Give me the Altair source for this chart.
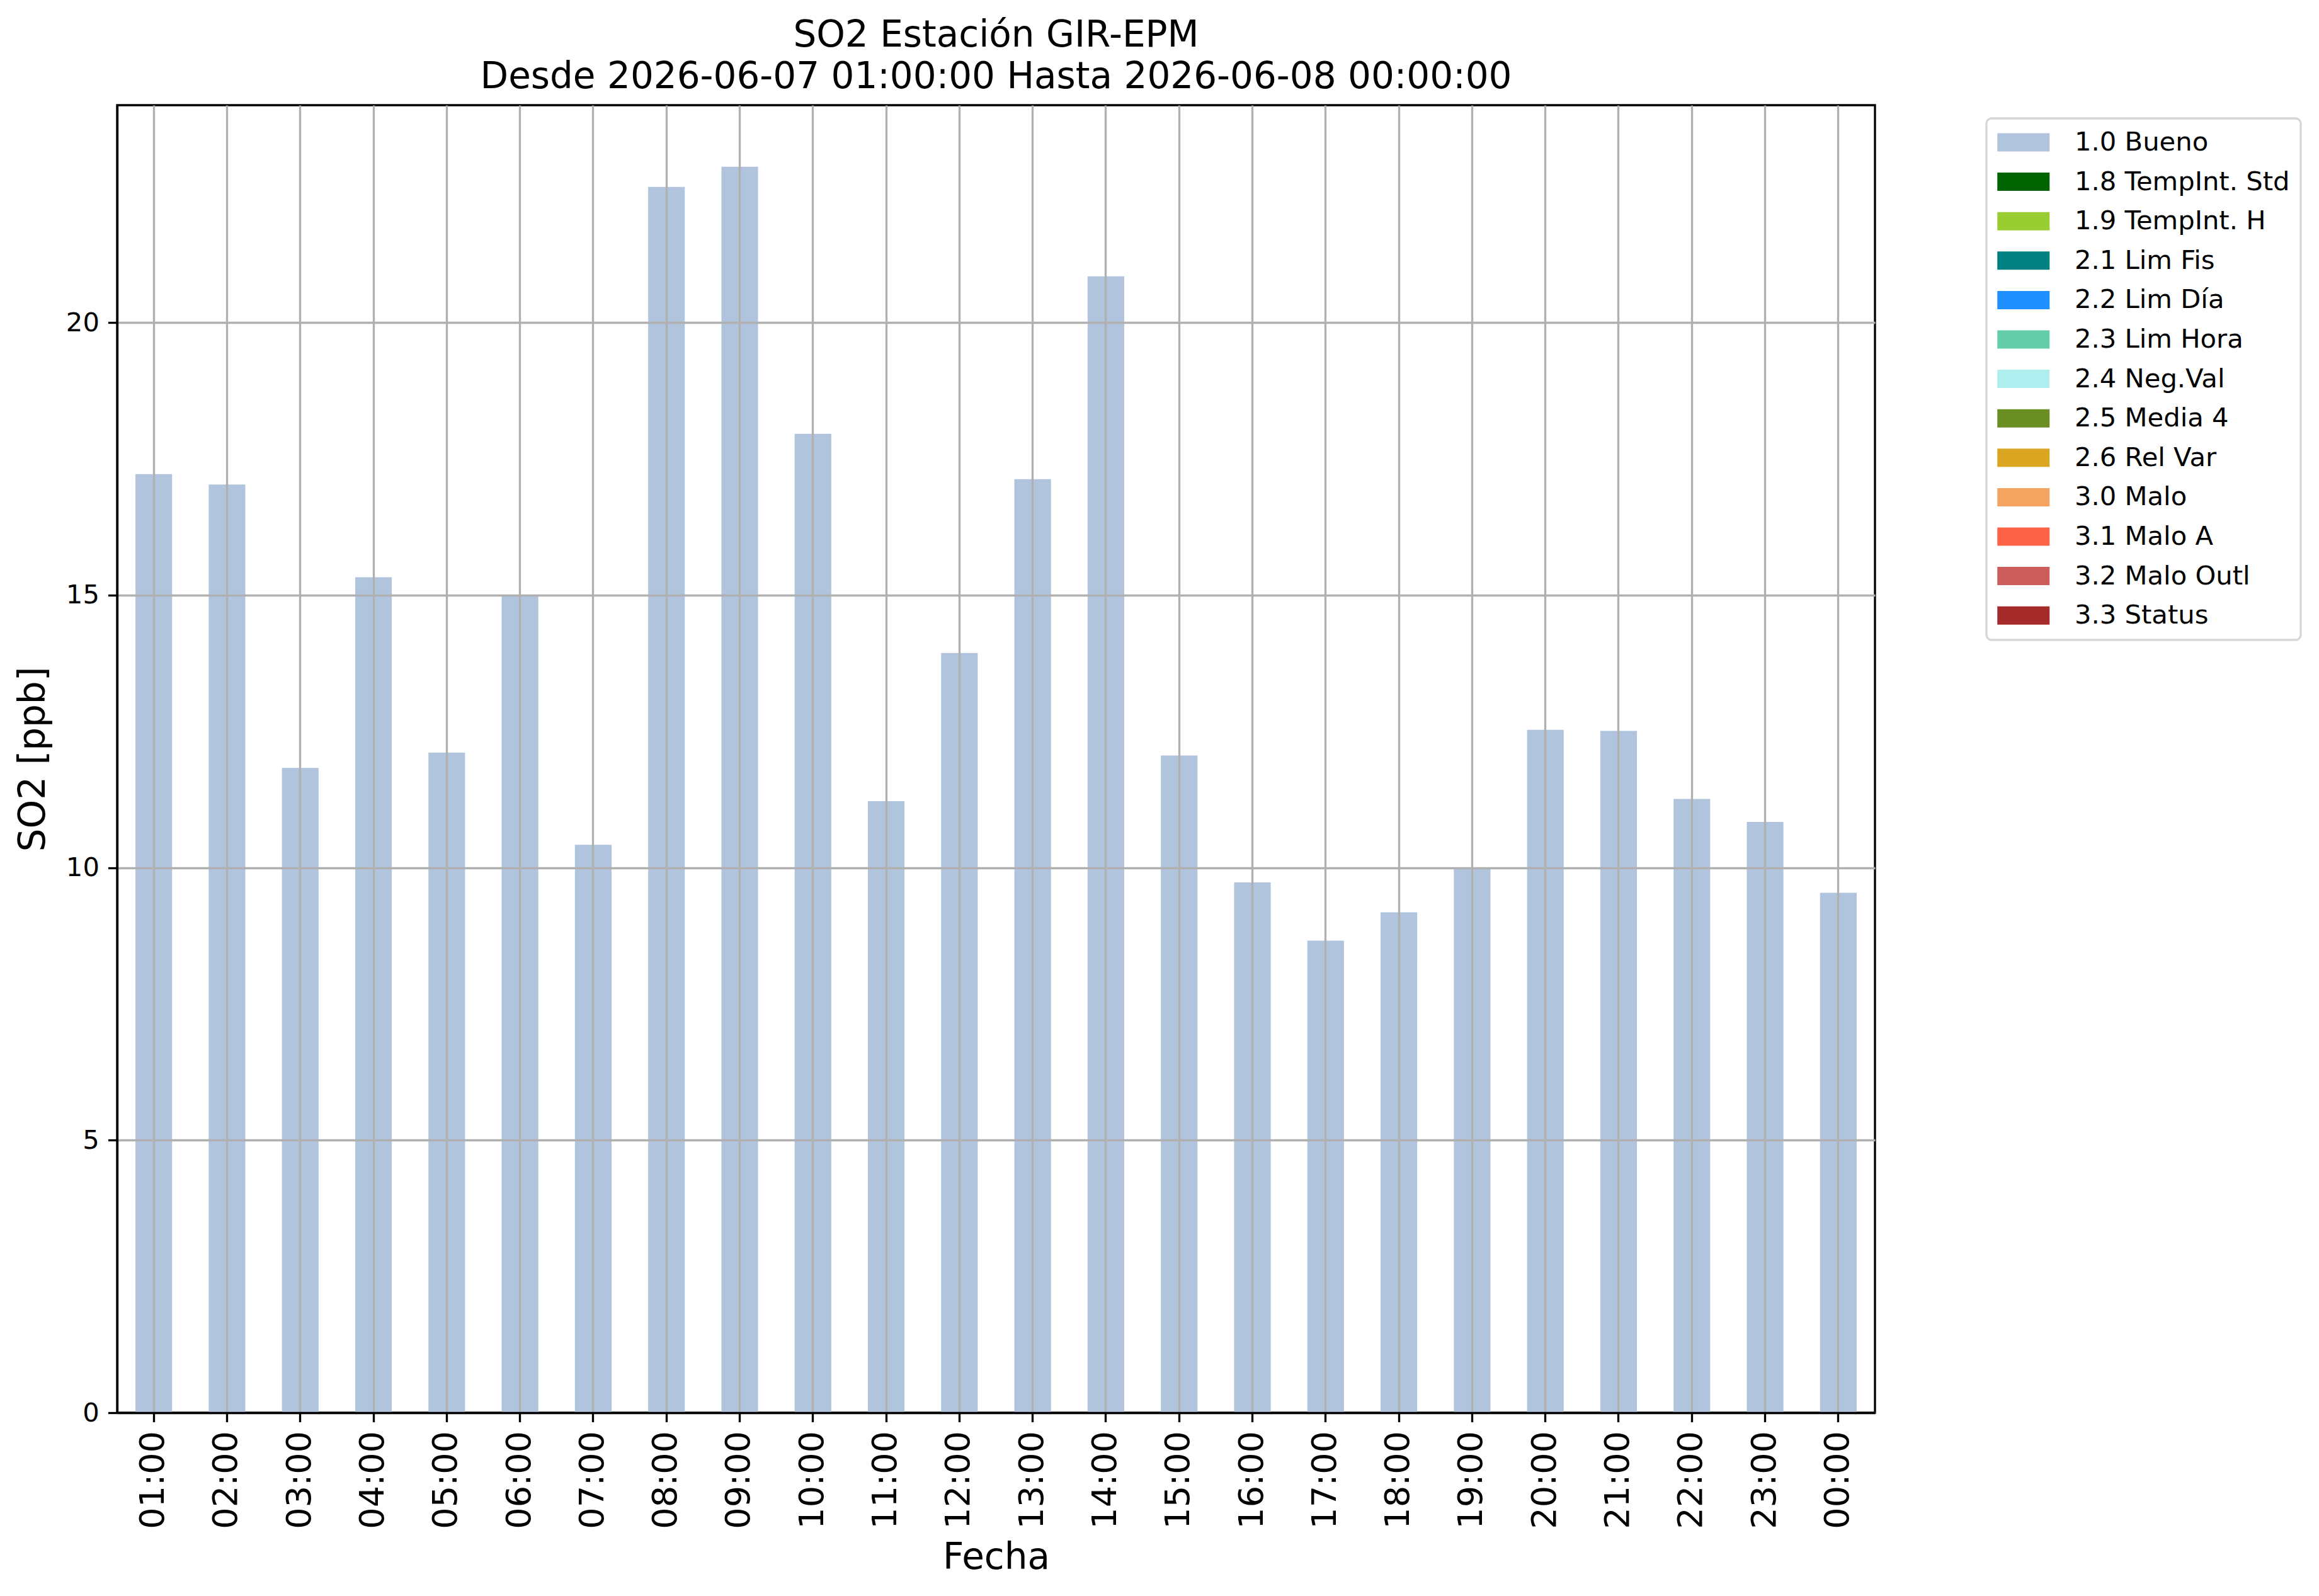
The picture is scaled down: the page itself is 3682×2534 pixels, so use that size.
import altair as alt
import pandas as pd

# ---- data ----
hours = ["01:00", "02:00", "03:00", "04:00", "05:00", "06:00", "07:00", "08:00",
         "09:00", "10:00", "11:00", "12:00", "13:00", "14:00", "15:00", "16:00",
         "17:00", "18:00", "19:00", "20:00", "21:00", "22:00", "23:00", "00:00"]
so2 = [17.22, 17.03, 11.83, 15.33, 12.11, 14.99, 10.42, 22.49,
       22.86, 17.96, 11.22, 13.94, 17.13, 20.85, 12.06, 9.73,
       8.66, 9.18, 9.99, 12.53, 12.51, 11.26, 10.84, 9.54]
flag_per_bar = ["1.0 Bueno"] * len(hours)

flags = ["1.0 Bueno", "1.8 TempInt. Std", "1.9 TempInt. H", "2.1 Lim Fis",
         "2.2 Lim Día", "2.3 Lim Hora", "2.4 Neg.Val", "2.5 Media 4",
         "2.6 Rel Var", "3.0 Malo", "3.1 Malo A", "3.2 Malo Outl", "3.3 Status"]
flag_colors = ["#B0C4DE", "#006400", "#9ACD32", "#008080", "#1E90FF", "#66CDAA",
               "#AFEEEE", "#6B8E23", "#DAA520", "#F4A460", "#FF6347", "#CD5C5C",
               "#A52A2A"]

title_lines = ["SO2 Estación GIR-EPM",
               "Desde 2026-06-07 01:00:00 Hasta 2026-06-08 00:00:00"]
y_ticks = [0, 5, 10, 15, 20]

df = pd.DataFrame({"Fecha": hours, "SO2": so2, "flag": flag_per_bar})

FONT = "DejaVu Sans"
LW = 3.33

bars = alt.Chart(df).mark_bar(strokeWidth=0, opacity=1).encode(
    x=alt.X("Fecha:N", sort=hours,
            scale=alt.Scale(paddingInner=0.5, paddingOuter=0.25),
            axis=alt.Axis(title="Fecha", labelAngle=270, labelFontSize=54,
                          labelPadding=14, grid=True, bandPosition=0.5,
                          titlePadding=17, zindex=1)),
    y=alt.Y("SO2:Q", scale=alt.Scale(domain=[0, 23.99], nice=False, zero=True),
            axis=alt.Axis(title="SO2 [ppb]", values=y_ticks, labelFontSize=41.7,
                          labelPadding=14, grid=True, titlePadding=22, zindex=1)),
    color=alt.Color("flag:N",
                    scale=alt.Scale(domain=flags, range=flag_colors),
                    legend=alt.Legend(title=None, orient="none",
                                      legendX=2968, legendY=21,
                                      symbolType="M-1,-0.7L3,-0.7L3,0.7L-1,0.7Z",
                                      symbolSize=1722, symbolStrokeWidth=0,
                                      symbolOpacity=1,
                                      labelFontSize=41.7, labelFont=FONT,
                                      labelColor="black", labelOffset=81,
                                      labelLimit=1000, rowPadding=19.6,
                                      padding=17, strokeColor="#d6d6d6",
                                      fillColor="white", cornerRadius=8)),
)

chart = bars.properties(
    width=2791, height=2076,
    title=alt.TitleParams(text=title_lines, fontSize=58, font=FONT,
                          fontWeight="normal", color="black", anchor="middle",
                          lineHeight=66, offset=-31, baseline="alphabetic"),
    autosize=alt.AutoSizeParams(type="none"),
    padding={"left": 178, "top": 159, "right": 697, "bottom": 283},
    background="white",
).configure_view(
    stroke="black", strokeWidth=LW
).configure_axis(
    labelFont=FONT, titleFont=FONT, labelColor="black", titleColor="black",
    titleFontSize=58, titleFontWeight="normal",
    gridColor="#b0b0b0", gridWidth=LW, gridOpacity=1,
    domainColor="black", domainWidth=LW,
    tickColor="black", tickWidth=LW, tickSize=14.6,
    zindex=1,
).configure_legend(
    strokeWidth=LW
)

chart.save("out.html", embed_options={"renderer": "svg", "actions": False})
